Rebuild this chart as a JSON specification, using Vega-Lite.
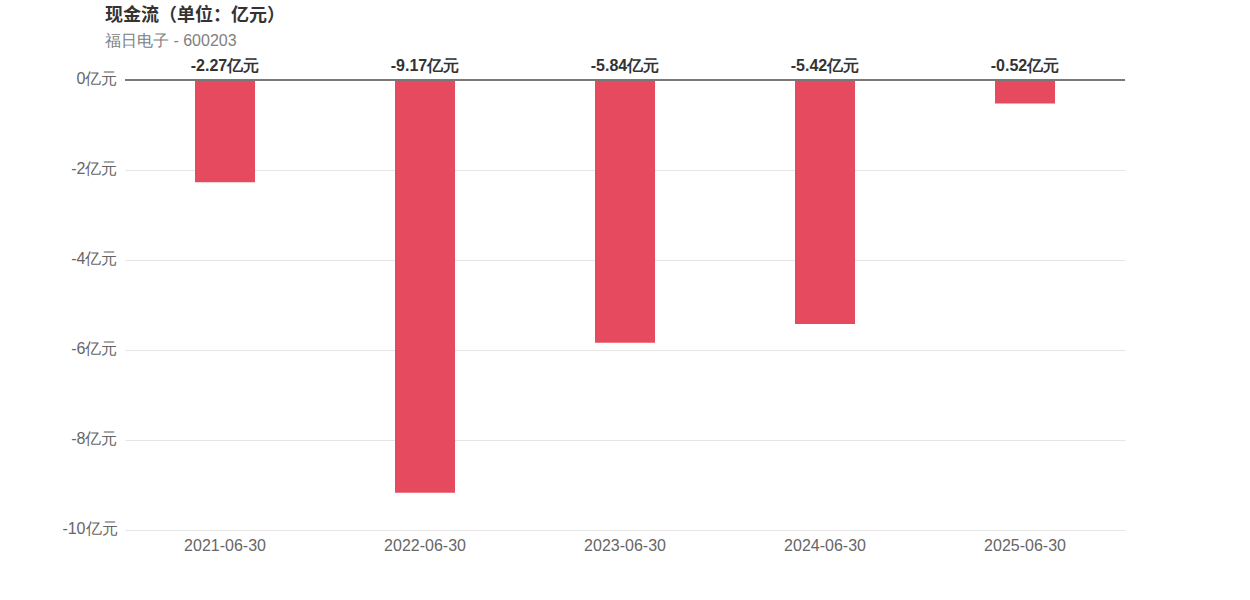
{
  "$schema": "https://vega.github.io/schema/vega-lite/v6.json",
  "autosize": "none",
  "width": 1000,
  "height": 450,
  "padding": {"left": 125, "top": 80, "right": 125, "bottom": 70},
  "background": "#ffffff",
  "title": {
    "text": "现金流（单位：亿元）",
    "subtitle": "福日电子 - 600203",
    "anchor": "start",
    "frame": "group",
    "dx": -20,
    "font": "Noto Sans CJK SC",
    "fontSize": 18,
    "fontWeight": "bold",
    "color": "#333333",
    "subtitleFont": "Liberation Sans",
    "subtitleFontSize": 16,
    "subtitleColor": "#808080",
    "subtitlePadding": 8,
    "offset": 9
  },
  "data": {
    "values": [
      {"date": "2021-06-30", "value": -2.27, "label": "-2.27亿元"},
      {"date": "2022-06-30", "value": -9.17, "label": "-9.17亿元"},
      {"date": "2023-06-30", "value": -5.84, "label": "-5.84亿元"},
      {"date": "2024-06-30", "value": -5.42, "label": "-5.42亿元"},
      {"date": "2025-06-30", "value": -0.52, "label": "-0.52亿元"}
    ]
  },
  "config": {
    "view": {"stroke": null},
    "font": "Liberation Sans"
  },
  "encoding": {
    "x": {
      "field": "date", "type": "nominal", "sort": null,
      "scale": {"paddingInner": 0.7, "paddingOuter": 0.35},
      "axis": {"title": null, "domain": false, "ticks": false, "labelAngle": 0, "labelPadding": 7, "labelFontSize": 16, "labelColor": "#666666", "labelFont": "Liberation Sans", "grid": false}
    }
  },
  "layer": [
    {
      "mark": {"type": "bar", "color": "#e64a5e"},
      "encoding": {
        "y": {
          "field": "value", "type": "quantitative",
          "scale": {"domain": [-10, 0], "nice": false},
          "axis": {"title": null, "domain": false, "ticks": false, "values": [0, -2, -4, -6, -8, -10], "labelExpr": "datum.value + '亿元'", "labelPadding": 8, "labelOffset": -2, "labelFontSize": 16, "labelColor": "#666666", "labelFont": "Liberation Sans", "gridColor": "#e5e5e5"}
        }
      }
    },
    {
      "mark": {"type": "rule", "color": "#777777", "strokeWidth": 1},
      "encoding": {"y": {"datum": 0, "type": "quantitative"}, "x": null}
    },
    {
      "mark": {"type": "text", "baseline": "bottom", "dy": -6, "fontSize": 16, "fontWeight": "bold", "color": "#333333", "font": "Liberation Sans"},
      "encoding": {
        "y": {"datum": 0, "type": "quantitative"},
        "text": {"field": "label"}
      }
    }
  ]
}
